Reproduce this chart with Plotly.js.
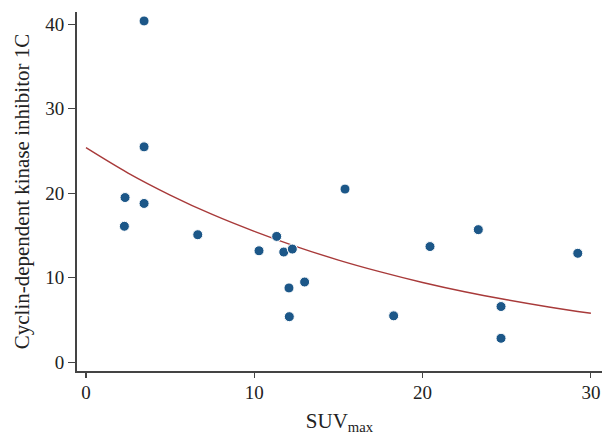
<!DOCTYPE html>
<html><head><meta charset="utf-8">
<script src="https://cdn.plot.ly/plotly-3.0.1.min.js"></script>
<style>html,body{margin:0;padding:0;background:#fff}#chart{width:602px;height:435px}</style>
</head><body><div id="chart"></div>
<script>
const suvMax = [3.45, 3.45, 2.32, 3.45, 2.28, 6.64, 10.28, 11.33, 11.75, 12.26, 12.06, 12.99, 12.08, 15.39, 18.28, 20.44, 23.31, 24.66, 24.66, 29.22];
const cdkn1c = [40.4, 25.5, 19.5, 18.8, 16.1, 15.1, 13.2, 14.9, 13.05, 13.4, 8.8, 9.5, 5.4, 20.5, 5.5, 13.7, 15.7, 6.6, 2.84, 12.9];
const fitX = [0, 2.5, 5, 7.5, 10, 12.5, 15, 17.5, 20, 22.5, 25, 27.5, 30];
const fitY = [25.4, 22.4, 19.8, 17.5, 15.5, 13.7, 12.1, 10.7, 9.45, 8.35, 7.4, 6.55, 5.8];
const xTicks = [0, 10, 20, 30];
const yTicks = [0, 10, 20, 30, 40];

const fam = 'Liberation Serif, Times New Roman, serif';
const tickFont = {family: fam, size: 19, color: '#222'};
const titleFont = {family: fam, size: 21, color: '#222'};
const data = [
  {x: fitX, y: fitY, type: 'scatter', mode: 'lines', line: {color: '#a83a3a', width: 1.4, shape: 'spline'}, hoverinfo: 'skip'},
  {x: suvMax, y: cdkn1c, type: 'scatter', mode: 'markers',
   marker: {color: '#1c5788', size: 10, line: {color: '#ffffff', width: 1}}}
];
const axisCommon = {showgrid: false, zeroline: false, showline: true, linecolor: '#444', linewidth: 2,
  ticks: 'outside', tickwidth: 1.2, tickcolor: '#444', tickfont: tickFont};
const layout = {
  width: 602, height: 435, showlegend: false,
  margin: {l: 77, r: 0, t: 12, b: 64},
  paper_bgcolor: '#fff', plot_bgcolor: '#fff',
  xaxis: Object.assign({}, axisCommon, {ticklen: 5, ticklabelstandoff: -2, range: [-0.535, 30.66], tickvals: xTicks, ticktext: xTicks.map(String),
    title: {text: 'SUV<sub>max</sub>', font: titleFont, standoff: 16}}),
  yaxis: Object.assign({}, axisCommon, {ticklen: 7, range: [-1.03, 41.46], tickvals: yTicks, ticktext: yTicks.map(String),
    title: {text: 'Cyclin-dependent kinase inhibitor 1C', font: titleFont, standoff: 10}})
};
Plotly.newPlot('chart', data, layout, {displayModeBar: false, staticPlot: true});
</script></body></html>
